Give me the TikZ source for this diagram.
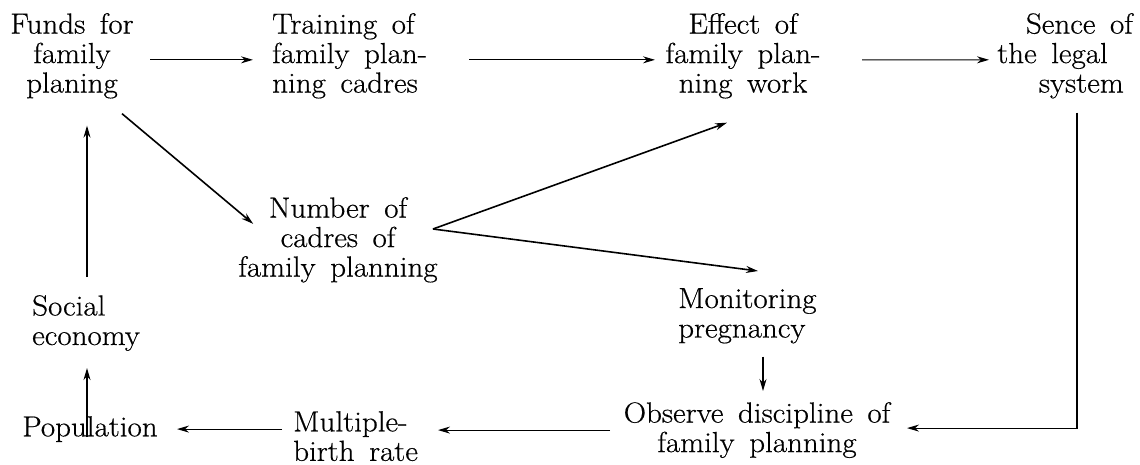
\documentclass[tikz,border=0pt]{standalone}
\usepackage{fontspec}
\setmainfont{Latin Modern Roman}[FakeStretch=1.07, FakeBold=0.5]
\usetikzlibrary{arrows.meta}
\newcommand\mywordsp{\spaceskip=0.5em\relax}
\begin{document}
\begin{tikzpicture}[x=1pt,y=-1pt,
  txt/.style={inner sep=0pt, font={\fontsize{29}{29.5}\selectfont\mywordsp}},
  arr/.style={-{Stealth[length=12pt,width=7pt]}, line width=1.1pt},
  darr/.style={arr, line width=1.6pt}]
\useasboundingbox (0,0) rectangle (1140,465);
% nodes
\node[txt, align=center, anchor=north] (funds) at (72,13) {Funds for\\family\\planing};
\node[txt, align=left, anchor=north west] (training) at (272,13) {Training of\\family plan-\\ning cadres};
\node[txt, align=center, anchor=north] (effect) at (743,13) {Effect of\\family plan-\\ning work};
\node[txt, align=right, anchor=north east] (sence) at (1133,13) {Sence of\\the legal\hbox to 25pt{}\\system\hbox to 9pt{}};
\node[txt, align=center, anchor=north] (number) at (338,197) {Number of\\cadres of\\family planning};
\node[txt, align=left, anchor=north west] (monitoring) at (678,288) {Monitoring\\pregnancy};
\node[txt, align=center, anchor=north] (observe) at (757,402) {Observe discipline of\\family planning};
\node[txt, align=left, anchor=north west] (multiple) at (293,411) {Multiple-\\birth rate};
\node[txt, anchor=north west] (population) at (22,416) {Population};
\node[txt, align=left, anchor=north west] (social) at (32,295) {Social\\economy};
\coordinate (apex) at (433,229);
% connectors
\draw[arr] ([xshift=78pt,yshift=-4pt]funds.center) -- ([xshift=-19pt,yshift=-4pt]training.west);
\draw[arr] ([xshift=197pt,yshift=-4pt]training.west) -- ([xshift=-88pt,yshift=-4pt]effect.center);
\draw[arr] ([xshift=119pt,yshift=-4pt]effect.center) -- ([xshift=-144pt,yshift=-4pt]sence.east);
\draw[arr] ([xshift=-56pt,yshift=-14pt]sence.south east) |- ([xshift=150pt,yshift=2pt]observe.center);
\draw[darr] ([xshift=50pt,yshift=-15pt]funds.south) -- ([xshift=15pt,yshift=16pt]number.west);
\draw[darr] (apex) -- ([xshift=-16pt,yshift=-24pt]effect.south);
\draw[darr] (apex) -- ([xshift=80pt,yshift=17pt]monitoring.north west);
\draw[arr] ([xshift=85pt,yshift=-13pt]monitoring.south west) coordinate (ms) -- ([yshift=11pt]ms |- observe.north);
\draw[arr] ([xshift=-147pt]observe.center) -- ([xshift=145pt]multiple.west |- observe.center);
\draw[arr] ([xshift=-11pt]multiple.west |- population.center) -- ([xshift=155pt]population.west);
\draw[arr] ([xshift=65pt,yshift=-8pt]population.west) coordinate (pc) -- ([yshift=-17pt]pc |- social.south);
\draw[arr] ([yshift=18pt]pc |- social.north) -- ([yshift=-27pt]pc |- funds.south);
\end{tikzpicture}
\end{document}
